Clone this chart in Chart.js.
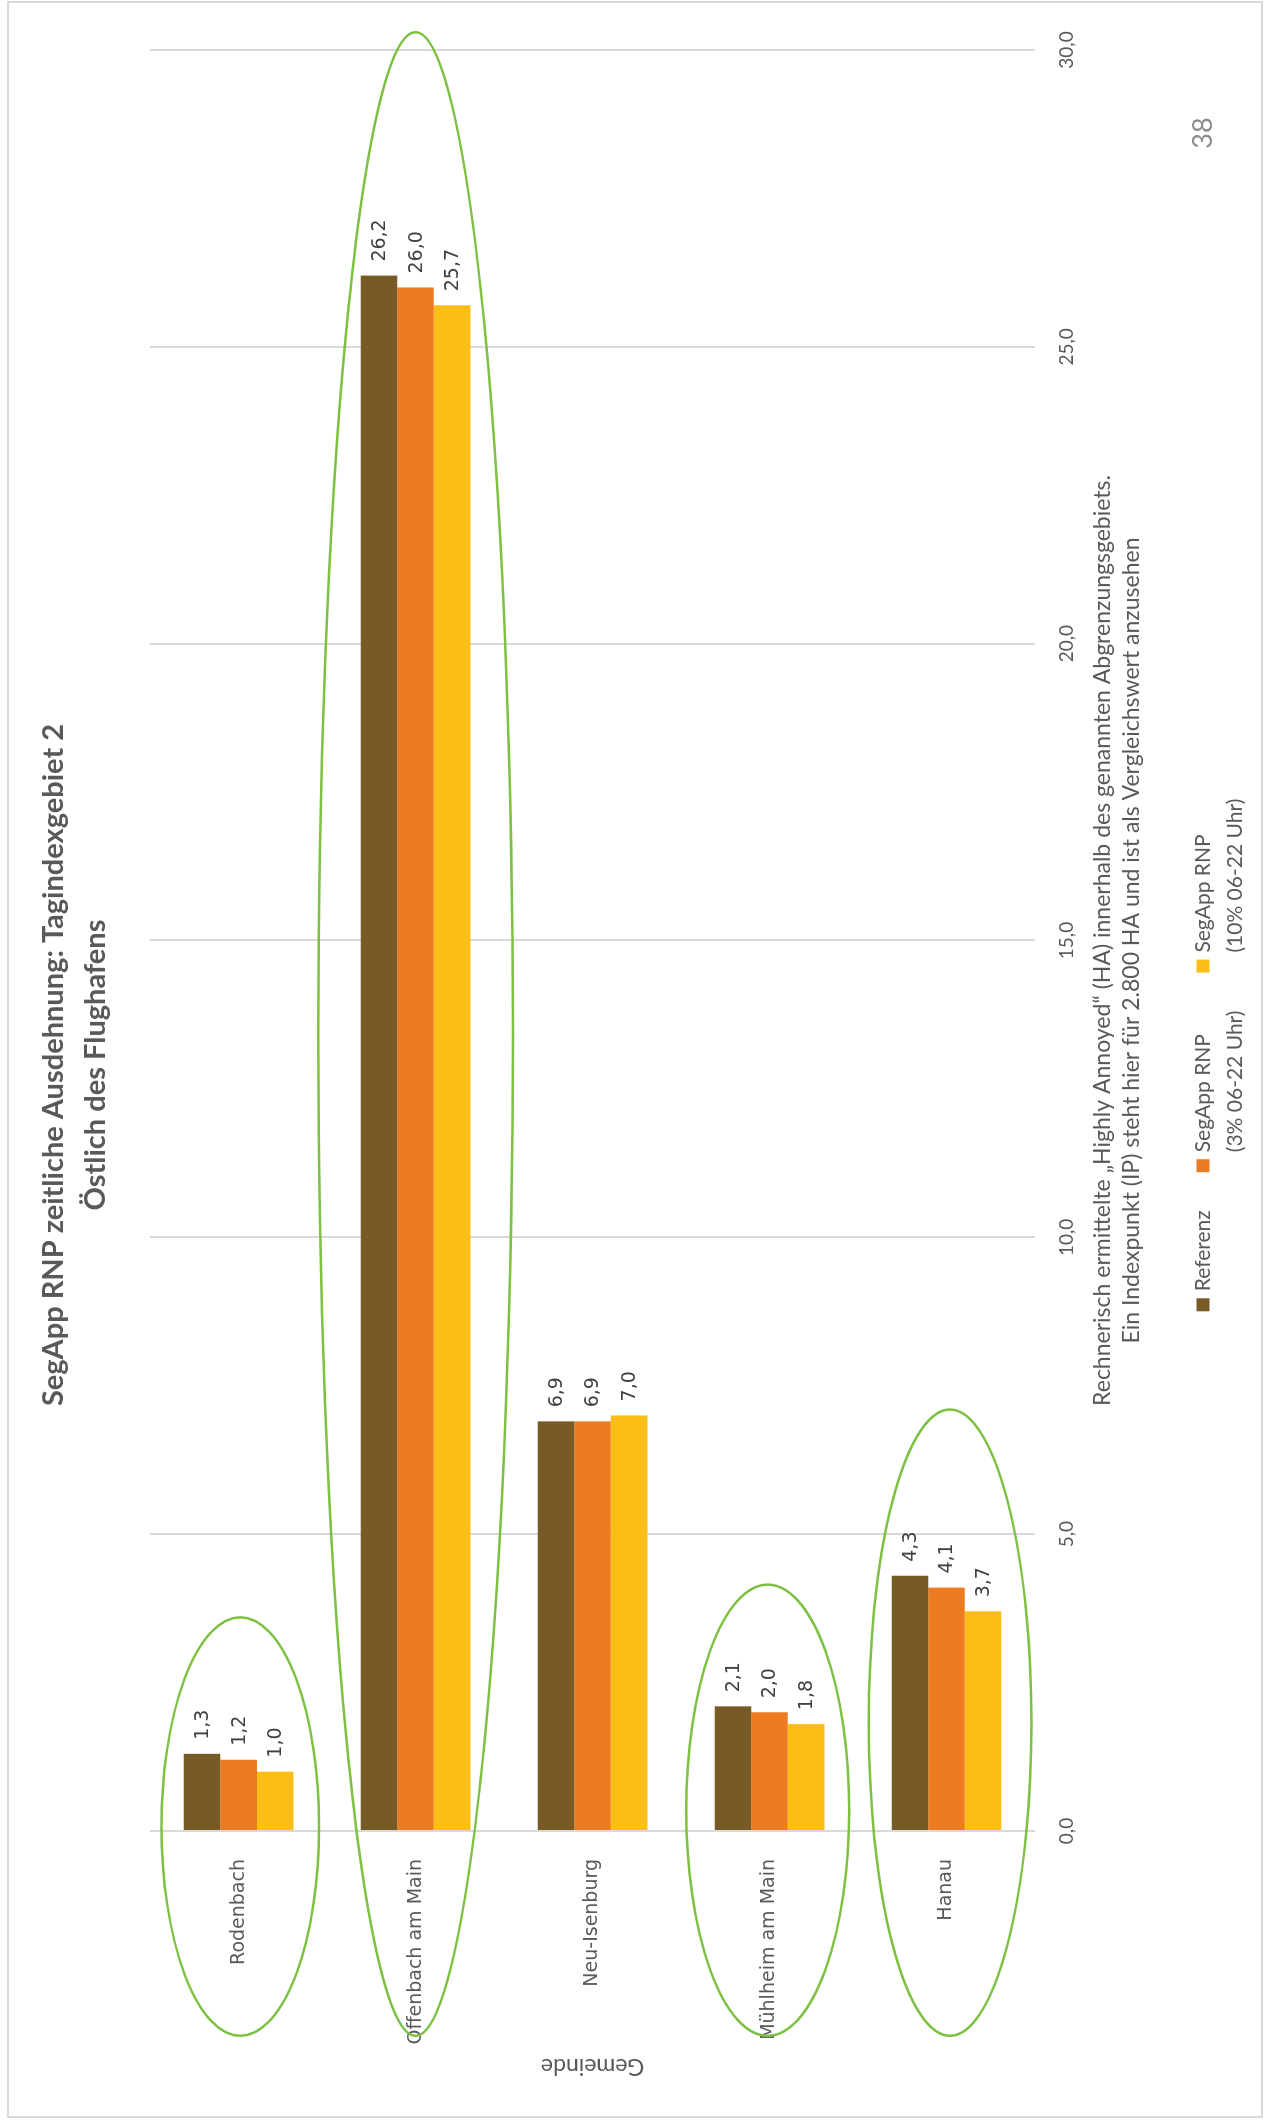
<!DOCTYPE html>
<html lang="de">
<head>
<meta charset="utf-8">
<title>SegApp RNP zeitliche Ausdehnung: Tagindexgebiet 2</title>
<script src="https://cdn.jsdelivr.net/npm/chart.js@4.4.1/dist/chart.umd.min.js"></script>
<style>
    html, body { margin: 0; padding: 0; background: #fff; }
    body { width: 1264px; height: 2126px; position: relative; overflow: hidden; }
    /* page frame around the slide */
    #frame { position: absolute; left: 7px; top: 1px; width: 1252px; height: 2113px; border: 2px solid #d9d9d9; pointer-events: none; }
    /* the chart is laid out landscape and turned onto the portrait page */
    #chartBox { position: absolute; left: 0; top: 0; width: 2126px; height: 1264px; transform-origin: 0 0; transform: translate(0, 2126px) rotate(-90deg); }
</style>
</head>
<body>
<div id="chartBox"><canvas id="tagindexChart" width="2126" height="1264"></canvas></div>
<div id="frame"></div>

<script>
// Gemeinden und Werte (Indexpunkte)
const gemeinden = ['Rodenbach', 'Offenbach am Main', 'Neu-Isenburg', 'Mühlheim am Main', 'Hanau'];
const referenz = [1.3, 26.2, 6.9, 2.1, 4.3];
const rnp3 = [1.2, 26.0, 6.9, 2.0, 4.1];
const rnp10 = [1.0, 25.7, 7.0, 1.8, 3.7];

const valueTicks = ['0,0', '5,0', '10,0', '15,0', '20,0', '25,0', '30,0'];
const seriesLabels = [['Referenz'], ['SegApp RNP', '(3% 06-22 Uhr)'], ['SegApp RNP', '(10% 06-22 Uhr)']];

const titleLines = ['SegApp RNP zeitliche Ausdehnung: Tagindexgebiet 2', 'Östlich des Flughafens'];
const footnoteLines = [
    'Rechnerisch ermittelte „Highly Annoyed“ (HA) innerhalb des genannten Abgrenzungsgebiets.',
    'Ein Indexpunkt (IP) steht hier für 2.800 HA und ist als Vergleichswert anzusehen'
];
const pageNumber = '38';

// green rings around some Gemeinden: category index, value range, half height as share of the band
const rings = [
    { index: 0, from: -3.45, to: 3.6, half: 0.445, shift: 0.01 },
    { index: 1, from: -3.45, to: 30.3, half: 0.55, shift: 0 },
    { index: 3, from: -3.45, to: 4.15, half: 0.46, shift: -0.01 },
    { index: 4, from: -3.45, to: 7.1, half: 0.46, shift: 0.02 }
];

const GREY = '#595959';
const SANS = 'Lato, "Open Sans", sans-serif';
const VALUE_FONT = '"DejaVu Sans", Verdana, sans-serif';

// value labels at the end of every bar
const valueLabels = {
    id: 'valueLabels',
    afterDatasetsDraw(chart) {
        const ctx = chart.ctx;
        ctx.save();
        ctx.font = '19px ' + VALUE_FONT;
        ctx.fillStyle = '#404040';
        ctx.textAlign = 'left';
        ctx.textBaseline = 'middle';
        chart.data.datasets.forEach((ds, i) => {
            chart.getDatasetMeta(i).data.forEach((bar, j) => {
                ctx.fillText(ds.data[j].toFixed(1).replace('.', ','), bar.x + 14, bar.y + 1);
            });
        });
        ctx.restore();
    }
};

// ellipses, placed through the scales
const ringMarks = {
    id: 'ringMarks',
    afterDraw(chart) {
        const ctx = chart.ctx;
        const xs = chart.scales.x;
        const ys = chart.scales.y;
        const band = (chart.chartArea.bottom - chart.chartArea.top) / gemeinden.length;
        ctx.save();
        ctx.strokeStyle = '#7dc142';
        ctx.lineWidth = 2.5;
        rings.forEach(r => {
            const x0 = xs.getPixelForValue(r.from);
            const x1 = xs.getPixelForValue(r.to);
            ctx.beginPath();
            ctx.ellipse((x0 + x1) / 2, ys.getPixelForValue(r.index) + r.shift * band, (x1 - x0) / 2, r.half * band, 0, 0, Math.PI * 2);
            ctx.stroke();
        });
        ctx.restore();
    }
};

// legend with wrapped labels, and the page number
const bottomBlock = {
    id: 'bottomBlock',
    afterDraw(chart) {
        const ctx = chart.ctx;
        const area = chart.chartArea;
        ctx.save();
        ctx.textBaseline = 'middle';
        ctx.textAlign = 'left';

        ctx.font = '21px ' + SANS;
        const box = 13, boxGap = 7, itemGap = 38;
        const lineY = area.bottom + 168;
        const lineStep = 32;
        const widths = seriesLabels.map(lines => Math.max(...lines.map(l => ctx.measureText(l).width)));
        const total = widths.reduce((a, w) => a + box + boxGap + w, 0) + itemGap * (widths.length - 1);
        let x = chart.width / 2 + 8 - total / 2;
        chart.data.datasets.forEach((ds, i) => {
            ctx.fillStyle = ds.backgroundColor;
            ctx.fillRect(x, lineY - box / 2, box, box);
            ctx.fillStyle = GREY;
            seriesLabels[i].forEach((l, k) => {
                ctx.fillText(l, x + box + boxGap, lineY + k * lineStep);
            });
            x += box + boxGap + widths[i] + itemGap;
        });

        // page number
        ctx.font = '27px ' + SANS;
        ctx.textAlign = 'center';
        ctx.fillStyle = '#8c8c8c';
        ctx.fillText(pageNumber, 1993, lineY);
        ctx.restore();
    }
};

const ctx_chart = document.getElementById('tagindexChart').getContext('2d');

new Chart(ctx_chart, {
    type: 'bar',
    data: {
        labels: gemeinden,
        datasets: [
            { label: 'Referenz', data: referenz, backgroundColor: '#785a26' },
            { label: 'SegApp RNP (3% 06-22 Uhr)', data: rnp3, backgroundColor: '#ed7b22' },
            { label: 'SegApp RNP (10% 06-22 Uhr)', data: rnp10, backgroundColor: '#fbbe16' }
        ]
    },
    options: {
        indexAxis: 'y',
        responsive: false,
        animation: false,
        categoryPercentage: 0.62,
        barPercentage: 1.0,
        layout: {
            padding: { left: 46, right: 50, top: 0, bottom: 0 }
        },
        scales: {
            x: {
                min: 0,
                max: 30,
                ticks: {
                    stepSize: 5,
                    padding: 20,
                    color: GREY,
                    font: { family: SANS, size: 19 },
                    callback: (value, i) => valueTicks[i]
                },
                grid: {
                    color: '#d9d9d9',
                    lineWidth: 2,
                    drawTicks: false
                },
                border: { display: false },
                // footnote sits under the value axis, legend space below it
                title: {
                    display: true,
                    text: footnoteLines,
                    color: GREY,
                    padding: { top: 0, bottom: 117 },
                    font: { family: SANS, size: 23, lineHeight: 1.3 }
                },
                afterFit: scale => { scale.height = 229; }
            },
            y: {
                ticks: {
                    padding: 20,
                    color: GREY,
                    font: { family: VALUE_FONT, size: 19 }
                },
                grid: { display: false },
                border: { display: false },
                title: {
                    display: true,
                    text: 'Gemeinde',
                    color: GREY,
                    padding: { top: 0, bottom: 0 },
                    font: { family: SANS, size: 23 }
                },
                afterFit: scale => { scale.width = 249; }
            }
        },
        plugins: {
            legend: { display: false },
            tooltip: { enabled: false },
            title: {
                display: true,
                text: titleLines,
                color: GREY,
                padding: { top: 33, bottom: 33 },
                font: { family: SANS, size: 29, weight: 'bold', lineHeight: 1.45 }
            }
        }
    },
    plugins: [valueLabels, ringMarks, bottomBlock]
});
</script>
</body>
</html>
